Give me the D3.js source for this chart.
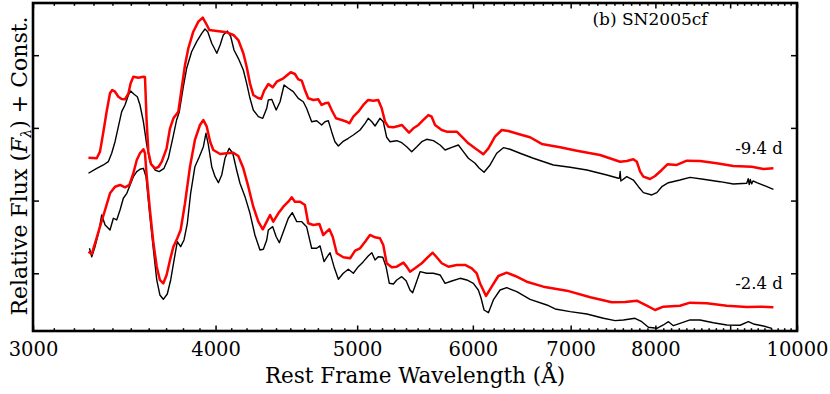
<!DOCTYPE html>
<html><head><meta charset="utf-8">
<script src="https://cdn.jsdelivr.net/npm/d3@7"></script>
<style>
body{margin:0;background:#fff;}
svg{display:block;}
text{font-family:"DejaVu Serif",serif;fill:#000;}
</style></head>
<body><svg id="c" width="830" height="394"></svg>
<script>
// ---------- DATA ----------
const xMajorTicks = [3000,4000,5000,6000,7000,8000,9000,10000];
const xTickLabels = [3000,4000,5000,6000,7000,8000,10000];
const yTicks = [1,2,3,4];
const epochLabels = ["-9.4 d","-2.4 d"];
const panelTitle = "(b) SN2005cf";

// -9.4 d model (red)
const waveModelEarly = [3274,3317,3334,3352,3369,3387,3399,3414,3432,3450,3468,3487,3499,3514,3542,3570,3579,3588,3598,3613,3636,3656,3675,3703,3723,3743,3772,3792,3812,3832,3862,3893,3920,3940,3961,4008,4071,4114,4146,4179,4201,4223,4245,4277,4298,4318,4347,4377,4405,4451,4503,4533,4557,4582,4605,4629,4666,4703,4728,4753,4778,4803,4836,4880,4919,4939,4970,5009,5049,5088,5129,5169,5197,5225,5251,5294,5336,5364,5392,5426,5463,5507,5550,5594,5623,5653,5713,5758,5850,5896,5958,6021,6068,6100,6149,6213,6280,6345,6447,6566,6688,6884,7068,7332,7567,7647,7727,7769,7810,7850,7933,7996,8081,8153,8274,8406,8583,8812,9046,9312,9485,9635];
const fluxModelEarly = [2.590,2.582,2.673,2.948,3.223,3.476,3.521,3.498,3.429,3.398,3.393,3.476,3.613,3.704,3.691,3.704,3.700,3.109,2.673,2.503,2.444,2.462,2.535,2.719,2.994,3.132,3.223,3.545,3.865,4.095,4.323,4.461,4.516,4.439,4.347,4.333,4.315,4.278,4.209,4.026,3.842,3.613,3.453,3.411,3.400,3.510,3.604,3.558,3.635,3.682,3.765,3.741,3.668,3.649,3.521,3.407,3.384,3.393,3.315,3.338,3.347,3.246,3.132,3.109,3.085,3.063,3.154,3.223,3.315,3.384,3.374,3.384,3.270,3.085,3.017,3.008,3.026,3.040,2.994,2.934,2.994,3.040,3.109,3.177,3.154,3.040,2.971,2.948,2.948,2.879,2.788,2.719,2.673,2.637,2.719,2.879,2.971,2.957,2.916,2.871,2.779,2.733,2.686,2.627,2.535,2.545,2.568,2.535,2.398,2.329,2.297,2.338,2.421,2.499,2.490,2.549,2.545,2.513,2.476,2.466,2.435,2.444];

// -9.4 d observed (black)
const waveObsEarly = [3274,3317,3352,3378,3396,3414,3432,3450,3468,3487,3499,3518,3536,3551,3570,3589,3607,3636,3660,3688,3713,3739,3762,3778,3802,3822,3852,3883,3914,3934,3951,3976,4008,4029,4049,4075,4097,4118,4146,4179,4201,4223,4245,4279,4309,4336,4347,4370,4401,4428,4456,4486,4521,4557,4593,4617,4654,4691,4728,4753,4778,4803,4828,4854,4888,4931,4970,5023,5063,5088,5117,5143,5183,5210,5238,5266,5322,5364,5406,5449,5493,5536,5579,5638,5698,5743,5804,5865,5911,5958,6021,6059,6107,6165,6230,6296,6362,6463,6600,6812,6994,7181,7411,7547,7560,7568,7576,7647,7727,7789,7850,7954,8018,8081,8166,8316,8449,8628,8857,9046,9239,9260,9275,9290,9310,9330,9386,9510,9635];
const fluxObsEarly = [2.376,2.444,2.490,2.535,2.651,2.810,3.017,3.223,3.315,3.453,3.508,3.462,3.429,3.315,3.085,2.765,2.535,2.421,2.398,2.444,2.582,2.857,3.109,3.223,3.567,3.820,4.048,4.186,4.301,4.360,4.323,4.164,4.026,4.140,4.278,4.333,4.254,4.072,3.957,3.796,3.613,3.407,3.246,3.154,3.132,3.270,3.384,3.393,3.246,3.360,3.590,3.545,3.498,3.407,3.360,3.270,3.085,3.099,3.040,3.085,3.099,2.948,2.810,2.751,2.810,2.857,2.902,2.971,3.063,3.132,3.085,3.026,3.132,3.085,2.871,2.810,2.824,2.796,2.741,2.673,2.741,2.810,2.843,2.824,2.765,2.696,2.733,2.765,2.673,2.582,2.513,2.448,2.389,2.490,2.651,2.728,2.706,2.651,2.582,2.490,2.458,2.421,2.352,2.307,2.310,2.400,2.270,2.329,2.283,2.191,2.109,2.077,2.109,2.191,2.246,2.283,2.320,2.293,2.260,2.228,2.238,2.300,2.220,2.290,2.230,2.270,2.246,2.201,2.155];

// -2.4 d model (red)
const waveModelLate = [3274,3291,3308,3334,3361,3387,3414,3441,3468,3492,3514,3533,3551,3570,3579,3589,3607,3627,3646,3664,3684,3703,3723,3743,3766,3786,3812,3842,3872,3903,3924,3945,3966,3986,4029,4071,4114,4146,4179,4212,4245,4279,4309,4336,4359,4381,4416,4451,4486,4510,4533,4570,4605,4629,4666,4711,4740,4766,4786,4811,4842,4892,4945,4984,5023,5063,5102,5143,5183,5210,5238,5280,5322,5378,5406,5434,5477,5536,5594,5632,5668,5713,5773,5850,5927,5990,6037,6068,6126,6181,6246,6329,6414,6532,6705,6958,7220,7469,7627,7769,7892,7996,8101,8316,8449,8675,8953,9239,9434,9635];
const fluxModelLate = [1.297,1.265,1.413,1.641,1.871,2.100,2.191,2.215,2.183,2.215,2.376,2.558,2.651,2.706,2.651,2.329,1.871,1.413,1.091,0.908,0.862,0.977,1.183,1.366,1.481,1.596,1.963,2.466,2.834,3.040,3.109,3.017,2.810,2.696,2.641,2.651,2.659,2.613,2.444,2.191,1.916,1.710,1.605,1.710,1.802,1.710,1.825,1.916,1.985,2.045,1.985,1.985,1.939,1.688,1.664,1.678,1.527,1.572,1.605,1.503,1.275,1.220,1.206,1.311,1.344,1.435,1.527,1.495,1.481,1.389,1.138,1.083,1.091,1.146,1.091,1.022,1.069,1.138,1.228,1.283,1.220,1.138,1.091,1.114,1.114,1.069,1.000,0.862,0.688,0.816,0.963,1.008,0.963,0.884,0.816,0.761,0.670,0.601,0.605,0.623,0.554,0.495,0.541,0.554,0.596,0.587,0.554,0.536,0.541,0.532];

// -2.4 d observed (black)
const waveObsLate = [3279,3291,3308,3326,3343,3361,3387,3405,3423,3441,3459,3478,3496,3514,3533,3551,3570,3585,3607,3627,3646,3664,3684,3707,3727,3747,3766,3786,3806,3826,3846,3872,3899,3924,3940,3955,3976,3997,4018,4039,4060,4087,4110,4135,4157,4190,4223,4256,4290,4313,4336,4347,4377,4401,4423,4451,4486,4514,4546,4582,4617,4654,4691,4716,4746,4766,4791,4821,4854,4892,4931,4970,5009,5049,5088,5117,5143,5169,5206,5233,5260,5294,5322,5364,5401,5434,5457,5486,5521,5579,5638,5698,5743,5804,5881,5943,6005,6052,6078,6107,6149,6197,6263,6329,6430,6566,6742,6831,6994,7181,7371,7508,7607,7747,7830,7912,8018,8101,8166,8230,8316,8449,8583,8765,8953,9142,9262,9336,9485,9611];
const fluxObsLate = [1.344,1.228,1.366,1.550,1.802,1.664,1.596,1.757,1.733,1.871,2.032,2.100,2.215,2.329,2.398,2.431,2.444,2.329,1.779,1.320,0.908,0.702,0.642,0.715,0.908,1.183,1.435,1.366,1.458,1.688,2.100,2.466,2.604,2.741,2.926,2.765,2.466,2.329,2.246,2.352,2.582,2.719,2.651,2.421,2.238,2.054,1.825,1.527,1.320,1.330,1.458,1.596,1.641,1.503,1.421,1.572,1.757,1.834,1.710,1.710,1.641,1.344,1.344,1.376,1.160,1.220,1.283,1.091,0.917,1.000,1.055,1.000,1.091,1.160,1.238,1.283,1.183,1.228,1.220,1.091,0.862,0.853,0.908,0.953,0.898,0.770,0.733,0.862,1.022,1.000,1.000,0.977,0.862,0.894,0.931,0.908,0.862,0.770,0.660,0.495,0.458,0.633,0.770,0.802,0.747,0.642,0.564,0.509,0.472,0.440,0.381,0.348,0.358,0.381,0.334,0.257,0.243,0.289,0.334,0.279,0.312,0.358,0.358,0.320,0.289,0.285,0.334,0.303,0.275,0.243];

// ---------- CHART ----------
const svg = d3.select("#c");
const L = 33, R = 797, T = 3, B = 331;
const x = d3.scaleLog().domain([3000,10000]).range([L,R]);
const y = d3.scaleLinear().domain([0.206,4.718]).range([B,T]);

const minorTicks = d3.range(3000,10001,100).filter(v => v % 1000 !== 0);

function styleAxis(g){
  g.select(".domain").remove();
  g.selectAll(".tick line").attr("stroke","#000").attr("stroke-width",1.5);
}

svg.append("g").attr("transform",`translate(0,${B})`)
  .call(d3.axisBottom(x).tickValues(minorTicks).tickSize(-2.8).tickFormat(""))
  .call(styleAxis);
svg.append("g").attr("transform",`translate(0,${B})`)
  .call(d3.axisBottom(x).tickValues(xMajorTicks).tickSize(-5.5).tickPadding(11)
    .tickFormat(d => xTickLabels.includes(d) ? String(d) : ""))
  .call(styleAxis)
  .call(g => g.selectAll("text").attr("font-family","DejaVu Serif").attr("font-size",19.5).attr("fill","#000"));
svg.append("g").attr("transform",`translate(0,${T})`)
  .call(d3.axisTop(x).tickValues(minorTicks).tickSize(-2.8).tickFormat(""))
  .call(styleAxis);
svg.append("g").attr("transform",`translate(0,${T})`)
  .call(d3.axisTop(x).tickValues(xMajorTicks).tickSize(-5.5).tickFormat(""))
  .call(styleAxis);
svg.append("g").attr("transform",`translate(${L},0)`)
  .call(d3.axisLeft(y).tickValues(yTicks).tickSize(-6).tickFormat(""))
  .call(styleAxis);
svg.append("g").attr("transform",`translate(${R},0)`)
  .call(d3.axisRight(y).tickValues(yTicks).tickSize(-6).tickFormat(""))
  .call(styleAxis);

const line = d3.line().x(d => x(d[0])).y(d => y(d[1]));
const zip = (w,f) => w.map((v,i) => [v,f[i]]);

const series = [
  {w: waveObsEarly, f: fluxObsEarly, c: "#000", sw: 1.4},
  {w: waveModelEarly, f: fluxModelEarly, c: "#ff0000", sw: 2.5},
  {w: waveObsLate, f: fluxObsLate, c: "#000", sw: 1.4},
  {w: waveModelLate, f: fluxModelLate, c: "#ff0000", sw: 2.5}
];
series.forEach(s => {
  svg.append("path").datum(zip(s.w,s.f)).attr("d",line)
    .attr("fill","none").attr("stroke",s.c).attr("stroke-width",s.sw)
    .attr("stroke-linejoin","round");
});

// frame
svg.append("rect").attr("x",L).attr("y",T).attr("width",R-L).attr("height",B-T)
  .attr("fill","none").attr("stroke","#000").attr("stroke-width",2.6);

// texts
svg.append("text").attr("x",650).attr("y",25).attr("text-anchor","middle")
  .attr("font-size",17).text(panelTitle);
svg.append("text").attr("x",759).attr("y",154).attr("text-anchor","middle")
  .attr("font-size",16.5).text(epochLabels[0]);
svg.append("text").attr("x",759).attr("y",289).attr("text-anchor","middle")
  .attr("font-size",16.5).text(epochLabels[1]);

svg.append("text").attr("x",415).attr("y",383).attr("text-anchor","middle")
  .attr("font-size",21.5).text("Rest Frame Wavelength (Å)");

const yt = svg.append("text").attr("transform","translate(27,166) rotate(-90)")
  .attr("text-anchor","middle").attr("font-size",22);
yt.append("tspan").text("Relative Flux (");
yt.append("tspan").attr("font-style","italic").text("F");
yt.append("tspan").attr("font-size",14).attr("font-style","italic").attr("dy",4).text("λ");
yt.append("tspan").attr("dy",-4).text(") + Const.");
</script></body></html>
